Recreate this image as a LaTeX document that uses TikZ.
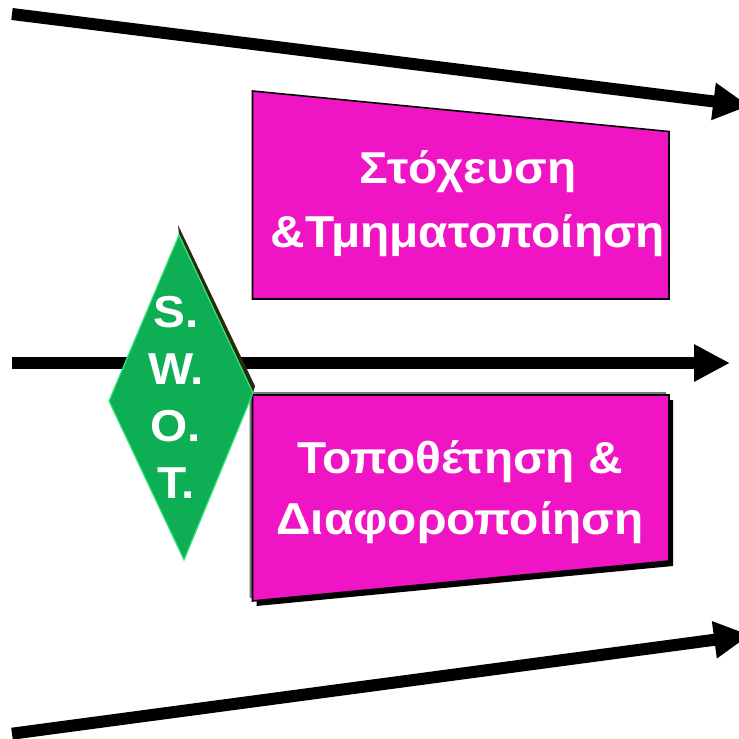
\documentclass[tikz,border=0pt]{standalone}
\usepackage{fontspec}
\setmainfont{Liberation Sans}[FakeStretch=1.07]
\usetikzlibrary{arrows.meta}
\definecolor{boxpink}{RGB}{239,20,196}
\definecolor{swotgreen}{RGB}{14,174,84}
\definecolor{swotedge}{RGB}{50,230,125}
\definecolor{swotshade}{RGB}{42,42,12}
\definecolor{bevelgrey}{RGB}{120,120,120}
\begin{document}
\begin{tikzpicture}[x=1pt,y=-1pt,
  flow/.style={line width=12pt,-{Triangle[length=36pt,width=35pt]}},
  card/.style={fill=boxpink,draw=black,line width=1.6pt,line join=miter},
  boxtext/.style={text=white,inner sep=0pt,align=center,anchor=base,
    font=\fontsize{44.7}{#1}\selectfont\bfseries},
  boxtext/.default=62
]
\useasboundingbox (0,0) rectangle (739,739);

% the three flows
\coordinate (topA) at (12,14);
\coordinate (topB) at (749.2,105.9);
\coordinate (midA) at (12,363);
\coordinate (midB) at (730,363);
\coordinate (botA) at (12,733.7);
\coordinate (botB) at (750,635);
\draw[flow] (topA) -- (topB);
\draw[flow] (midA) -- (midB);
\draw[flow] (botA) -- (botB);

% upper card (text anchored at the baseline of its last line)
\draw[card] (252.5,91) -- (669,131.5) -- (669,299) -- (252.5,299) -- cycle;
\node[boxtext=64] (target) at (468,247) {Στόχευση\\\&Τμηματοποίηση};

% lower card with its shadow
\fill[bevelgrey] (249.5,392) -- (666,392) -- (666,558) -- (249.5,598) -- cycle;
\fill[black] (256.5,400) -- (673,400) -- (673,566) -- (256.5,606) -- cycle;
\draw[card] (252.5,395) -- (669,395) -- (669,561) -- (252.5,601) -- cycle;
\node[boxtext=61] (position) at (460,534) {Τοποθέτηση \&\\Διαφοροποίηση};

% SWOT diamond
\fill[swotshade] (178,225) -- (255,386) -- (253,393) -- (179,235) -- cycle;
\draw[fill=swotgreen,draw=swotedge,line width=1.2pt,line join=miter]
  (179,235) -- (253,393) -- (184,560) -- (109,401) -- cycle;
\node[boxtext=57] (swot) at (176,498) {S.\\W.\\O.\\T.};
\end{tikzpicture}
\end{document}
